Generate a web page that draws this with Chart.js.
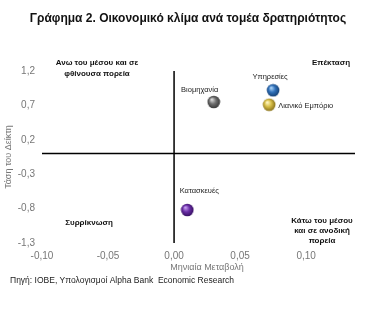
<!DOCTYPE html>
<html>
<head>
<meta charset="utf-8">
<script src="https://cdn.jsdelivr.net/npm/chart.js@4"></script>
<style>
  html, body { margin: 0; padding: 0; background: #fff; }
  #wrap { width: 379px; height: 309px; position: relative; }
</style>
</head>
<body>
<div id="wrap"><canvas id="chartKlima"></canvas></div>
<script>
// sectors and their position (monthly change, index trend)
const sectors = ['Βιομηχανία', 'Υπηρεσίες', 'Λιανικό Εμπόριο', 'Κατασκευές'];
const monthlyChange = [0.030, 0.075, 0.072, 0.010];
const indexTrend = [0.75, 0.92, 0.71, -0.82];
const xTicks = [-0.10, -0.05, 0.00, 0.05, 0.10];
const yTicks = [-1.3, -0.8, -0.3, 0.2, 0.7, 1.2];

const ballColors = [
  ['#d8d8d8', '#6f6f6f', '#303030'],
  ['#a9d2f7', '#2f70b9', '#123a6a'],
  ['#fff6c0', '#d6bd45', '#7d6615'],
  ['#c49cf0', '#6a2ea6', '#2f0b58']
];
// label offsets from ball centre: dx, dy, align
const labelPos = [[-14, -12, 'center'], [-3, -13, 'center'], [9, 1, 'left'], [12, -19, 'center']];

function ball(c) {
  const cv = document.createElement('canvas');
  cv.width = 14; cv.height = 14;
  const g = cv.getContext('2d');
  const grad = g.createRadialGradient(5, 4.5, 0.5, 7, 7, 7);
  grad.addColorStop(0, c[0]);
  grad.addColorStop(0.45, c[1]);
  grad.addColorStop(1, c[2]);
  g.fillStyle = grad;
  g.beginPath();
  g.arc(7, 7, 6.3, 0, Math.PI * 2);
  g.fill();
  return cv;
}

const fnt = (size, bold) => (bold ? 'bold ' : '') + size + 'px "Liberation Sans", Arial, sans-serif';

const extras = {
  id: 'extras',
  beforeDatasetsDraw(chart) {
    const ctx = chart.ctx;
    const x = chart.scales.x, y = chart.scales.y;
    const x0 = x.getPixelForValue(0), y0 = y.getPixelForValue(0);
    ctx.save();
    ctx.strokeStyle = '#000';
    ctx.lineWidth = 1.5;
    ctx.beginPath();
    ctx.moveTo(x.left, y0); ctx.lineTo(x.right, y0);
    ctx.moveTo(x0, y.top); ctx.lineTo(x0, y.bottom);
    ctx.stroke();
    ctx.restore();
  },
  afterDraw(chart) {
    const ctx = chart.ctx;
    ctx.save();
    ctx.fillStyle = '#111';
    ctx.textBaseline = 'middle';
    ctx.textAlign = 'center';
    ctx.font = fnt(12, true);
    ctx.fillText('Γράφημα 2. Οικονομικό κλίμα ανά τομέα δρατηριότητος', 188, 19);

    // quadrant notes
    ctx.font = fnt(8, true);
    ctx.fillText('Ανω του μέσου και σε', 97, 63);
    ctx.fillText('φθίνουσα πορεία', 97, 74);
    ctx.fillText('Επέκταση', 331, 63);
    ctx.fillText('Συρρίκνωση', 89, 223);
    ctx.fillText('Κάτω του μέσου', 322, 221);
    ctx.fillText('και σε ανοδική', 322, 231);
    ctx.fillText('πορεία', 322, 241);

    // point labels
    const meta = chart.getDatasetMeta(0);
    ctx.font = fnt(7.5, false);
    ctx.fillStyle = '#222';
    meta.data.forEach((pt, i) => {
      ctx.textAlign = labelPos[i][2];
      ctx.fillText(sectors[i], pt.x + labelPos[i][0], pt.y + labelPos[i][1]);
    });

    // axis titles
    ctx.fillStyle = '#777';
    ctx.font = fnt(9, false);
    ctx.textAlign = 'center';
    ctx.fillText('Μηνιαία Μεταβολή', 207, 268);
    ctx.save();
    ctx.translate(9, 157);
    ctx.rotate(-Math.PI / 2);
    ctx.fillText('Τάση του Δείκτη', 0, 0);
    ctx.restore();

    // source
    ctx.fillStyle = '#222';
    ctx.textAlign = 'left';
    ctx.font = fnt(8.5, false);
    ctx.fillText('Πηγή: ΙΟΒΕ, Υπολογισμοί Alpha Bank  Economic Research', 10, 281);
    ctx.restore();
  }
};

const fmt = (v, d) => v.toFixed(d).replace('.', ',');

new Chart(document.getElementById('chartKlima'), {
  type: 'scatter',
  data: {
    datasets: [{
      data: sectors.map((s, i) => ({ x: monthlyChange[i], y: indexTrend[i] })),
      pointStyle: ballColors.map(ball),
      pointRadius: 7
    }]
  },
  options: {
    responsive: true,
    maintainAspectRatio: false,
    animation: false,
    layout: { padding: { top: 71, right: 24, left: 0, bottom: 0 } },
    scales: {
      x: {
        min: -0.10,
        max: 0.137,
        grid: { display: false, drawTicks: false },
        border: { display: false },
        afterBuildTicks: s => { s.ticks = xTicks.map(v => ({ value: v })); },
        afterFit: s => { s.height = 66; },
        ticks: {
          padding: 7,
          color: '#777',
          font: { family: '"Liberation Sans", Arial, sans-serif', size: 10 },
          callback: v => fmt(v, 2)
        }
      },
      y: {
        min: -1.3,
        max: 1.2,
        grid: { display: false, drawTicks: false },
        border: { display: false },
        afterBuildTicks: s => { s.ticks = yTicks.map(v => ({ value: v })); },
        afterFit: s => { s.width = 42; },
        ticks: {
          padding: 7,
          color: '#777',
          font: { family: '"Liberation Sans", Arial, sans-serif', size: 10 },
          callback: v => fmt(v, 1)
        }
      }
    },
    plugins: {
      legend: { display: false },
      tooltip: { enabled: false }
    }
  },
  plugins: [extras]
});
</script>
</body>
</html>
